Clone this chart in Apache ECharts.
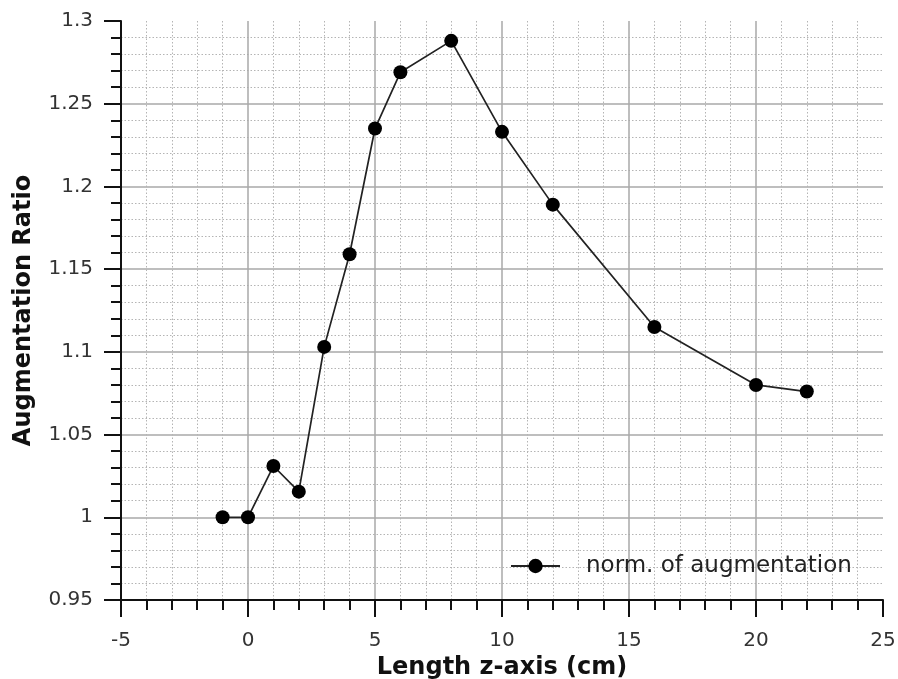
<!DOCTYPE html>
<html>
<head>
<meta charset="utf-8">
<script src="https://cdn.jsdelivr.net/npm/echarts@6/dist/echarts.min.js"></script>
<style>
  html, body { margin: 0; padding: 0; background: #fff; }
  #chart { width: 898px; height: 679px; }
</style>
</head>
<body>
<div id="chart"></div>
<script>
const lengths = [-1, 0, 1, 2, 3, 4, 5, 6, 8, 10, 12, 16, 20, 22];
const ratios = [1.0, 1.0, 1.031, 1.0155, 1.103, 1.159, 1.235, 1.269, 1.288, 1.233, 1.189, 1.115, 1.080, 1.076];
const seriesName = "norm. of augmentation";

const font = "DejaVu Sans";
const points = lengths.map((x, i) => [x, ratios[i]]);

function axisStyle() {
  return {
    axisLine: { show: true, onZero: false, lineStyle: { color: "#111", width: 2 } },
    axisTick: { show: true, inside: false, length: 17, lineStyle: { color: "#111", width: 2 } },
    minorTick: { show: true, splitNumber: 5, length: 10, lineStyle: { color: "#111", width: 2 } },
    splitLine: { show: true, showMinLine: false, showMaxLine: false, lineStyle: { color: "#a8a8a8", width: 1.5 } },
    minorSplitLine: { show: true, lineStyle: { color: "#b4b4b4", width: 1, type: [1.5, 2] } },
    nameTextStyle: { color: "#111", fontFamily: font, fontSize: 24, fontWeight: "bold" },
  };
}

const chart = echarts.init(document.getElementById("chart"));
chart.setOption({
  animation: false,
  backgroundColor: "#fff",
  grid: { left: 121, right: 15, top: 21, bottom: 79, outerBoundsMode: "none" },
  legend: {
    data: [seriesName],
    left: 510,
    top: 552,
    padding: 0,
    itemWidth: 49,
    itemHeight: 18,
    textStyle: { color: "#222", fontFamily: font, fontSize: 23, lineHeight: 28, padding: [0, 0, 0, 21] },
  },
  xAxis: {
    type: "value",
    min: -5,
    max: 25,
    interval: 5,
    name: "Length z-axis (cm)",
    nameLocation: "middle",
    nameGap: 51,
    ...axisStyle(),
    axisLabel: { color: "#333", fontFamily: font, fontSize: 20, margin: 31 },
  },
  yAxis: {
    type: "value",
    min: 0.95,
    max: 1.3,
    interval: 0.05,
    name: "Augmentation Ratio",
    nameLocation: "middle",
    nameGap: 85,
    ...axisStyle(),
    axisLabel: { color: "#333", fontFamily: font, fontSize: 20, margin: 28 },
  },
  series: [
    {
      name: seriesName,
      type: "line",
      data: points,
      symbol: "circle",
      symbolSize: 14,
      itemStyle: { color: "#000" },
      lineStyle: { color: "#222", width: 1.7 },
    },
  ],
});
</script>
</body>
</html>
